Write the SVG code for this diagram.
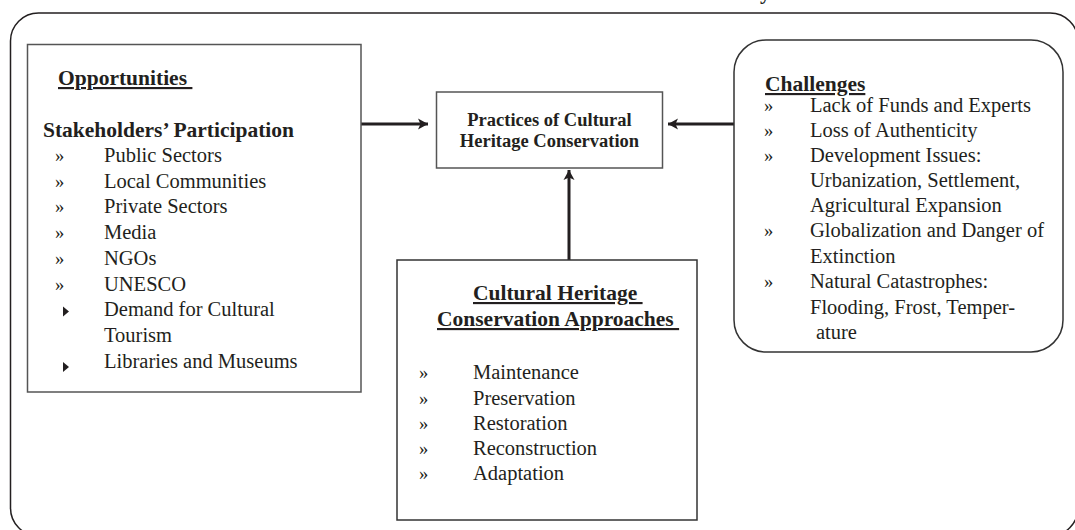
<svg xmlns="http://www.w3.org/2000/svg" width="1075" height="530" viewBox="0 0 1075 530">
<defs>
<style>
text{font-family:"Liberation Serif","Times New Roman",serif;fill:#231f20;}
.h{font-weight:bold;font-size:21.5px;}
.hu{font-weight:bold;font-size:21.5px;text-decoration:underline;white-space:pre;}
.c{font-weight:bold;font-size:18.5px;text-anchor:middle;}
.t{font-size:20.5px;}
.b{font-size:18.5px;}
.box{fill:#fff;stroke:#555;stroke-width:1.5;}
.con{stroke:#231f20;stroke-width:3;fill:none;}
</style>
<marker id="ah" markerUnits="userSpaceOnUse" markerWidth="12" markerHeight="12" viewBox="0 0 12 12" refX="10" refY="6" orient="auto">
<path d="M0,0.5 L10,6 L0,11.5 L2.5,6 z" fill="#231f20"/>
</marker>
</defs>
<rect width="1075" height="530" fill="#fff"/>
<text class="h" x="760" y="-1.5">y</text>
<rect id="frame" x="10.5" y="13" width="1067.5" height="523" rx="28" ry="28" fill="none" stroke="#231f20" stroke-width="1.5"/>

<g id="connectors">
<line class="con" x1="361" y1="124" x2="428" y2="124" marker-end="url(#ah)"/>
<line class="con" x1="734" y1="124" x2="668" y2="124" marker-end="url(#ah)"/>
<line class="con" x1="569" y1="260" x2="569" y2="170" marker-end="url(#ah)"/>
</g>

<g id="opportunities">
<rect class="box" x="27.5" y="44.5" width="333.5" height="347.5"/>
<text class="hu" x="58" y="85">Opportunities </text>
<text class="h" x="43" y="137">Stakeholders’ Participation</text>
<text class="b" x="55" y="162">»</text><text class="t" x="104" y="162">Public Sectors</text>
<text class="b" x="55" y="187.5">»</text><text class="t" x="104" y="187.5">Local Communities</text>
<text class="b" x="55" y="213">»</text><text class="t" x="104" y="213">Private Sectors</text>
<text class="b" x="55" y="238.5">»</text><text class="t" x="104" y="238.5">Media</text>
<text class="b" x="55" y="264.5">»</text><text class="t" x="104" y="264.5">NGOs</text>
<text class="b" x="55" y="290.5">»</text><text class="t" x="104" y="290.5">UNESCO</text>
<path d="M63,306.5 L69,311.5 L63,316.5 z" fill="#231f20"/>
<text class="t" x="104" y="316">Demand for Cultural</text>
<text class="t" x="104" y="342">Tourism</text>
<path d="M63,362 L69,367 L63,372 z" fill="#231f20"/>
<text class="t" x="104" y="368">Libraries and Museums</text>
</g>

<g id="practices">
<rect class="box" x="436.5" y="92" width="226" height="76"/>
<text class="c" x="549.5" y="126">Practices of Cultural</text>
<text class="c" x="549.5" y="147">Heritage Conservation</text>
</g>

<g id="approaches">
<rect class="box" x="397" y="260" width="300" height="260" style="stroke:#333"/>
<text class="hu" x="473" y="300">Cultural Heritage </text>
<text class="hu" x="437" y="326">Conservation Approaches </text>
<text class="b" x="419" y="379">»</text><text class="t" x="473" y="379">Maintenance</text>
<text class="b" x="419" y="404.5">»</text><text class="t" x="473" y="404.5">Preservation</text>
<text class="b" x="419" y="430">»</text><text class="t" x="473" y="430">Restoration</text>
<text class="b" x="419" y="455">»</text><text class="t" x="473" y="455">Reconstruction</text>
<text class="b" x="419" y="480">»</text><text class="t" x="473" y="480">Adaptation</text>
</g>

<g id="challenges">
<rect class="box" x="734" y="40" width="329" height="312" rx="32" ry="32" style="stroke:#333"/>
<text class="hu" x="765" y="91">Challenges</text>
<text class="b" x="764" y="112">»</text><text class="t" x="810" y="112">Lack of Funds and Experts</text>
<text class="b" x="764" y="137">»</text><text class="t" x="810" y="137">Loss of Authenticity</text>
<text class="b" x="764" y="162">»</text><text class="t" x="810" y="162">Development Issues:</text>
<text class="t" x="810" y="187">Urbanization, Settlement,</text>
<text class="t" x="810" y="212">Agricultural Expansion</text>
<text class="b" x="764" y="237">»</text><text class="t" x="810" y="237">Globalization and Danger of</text>
<text class="t" x="810" y="262.5">Extinction</text>
<text class="b" x="764" y="288">»</text><text class="t" x="810" y="288">Natural Catastrophes:</text>
<text class="t" x="810" y="313.5">Flooding, Frost, Temper-</text>
<text class="t" x="816" y="339">ature</text>
</g>
</svg>
